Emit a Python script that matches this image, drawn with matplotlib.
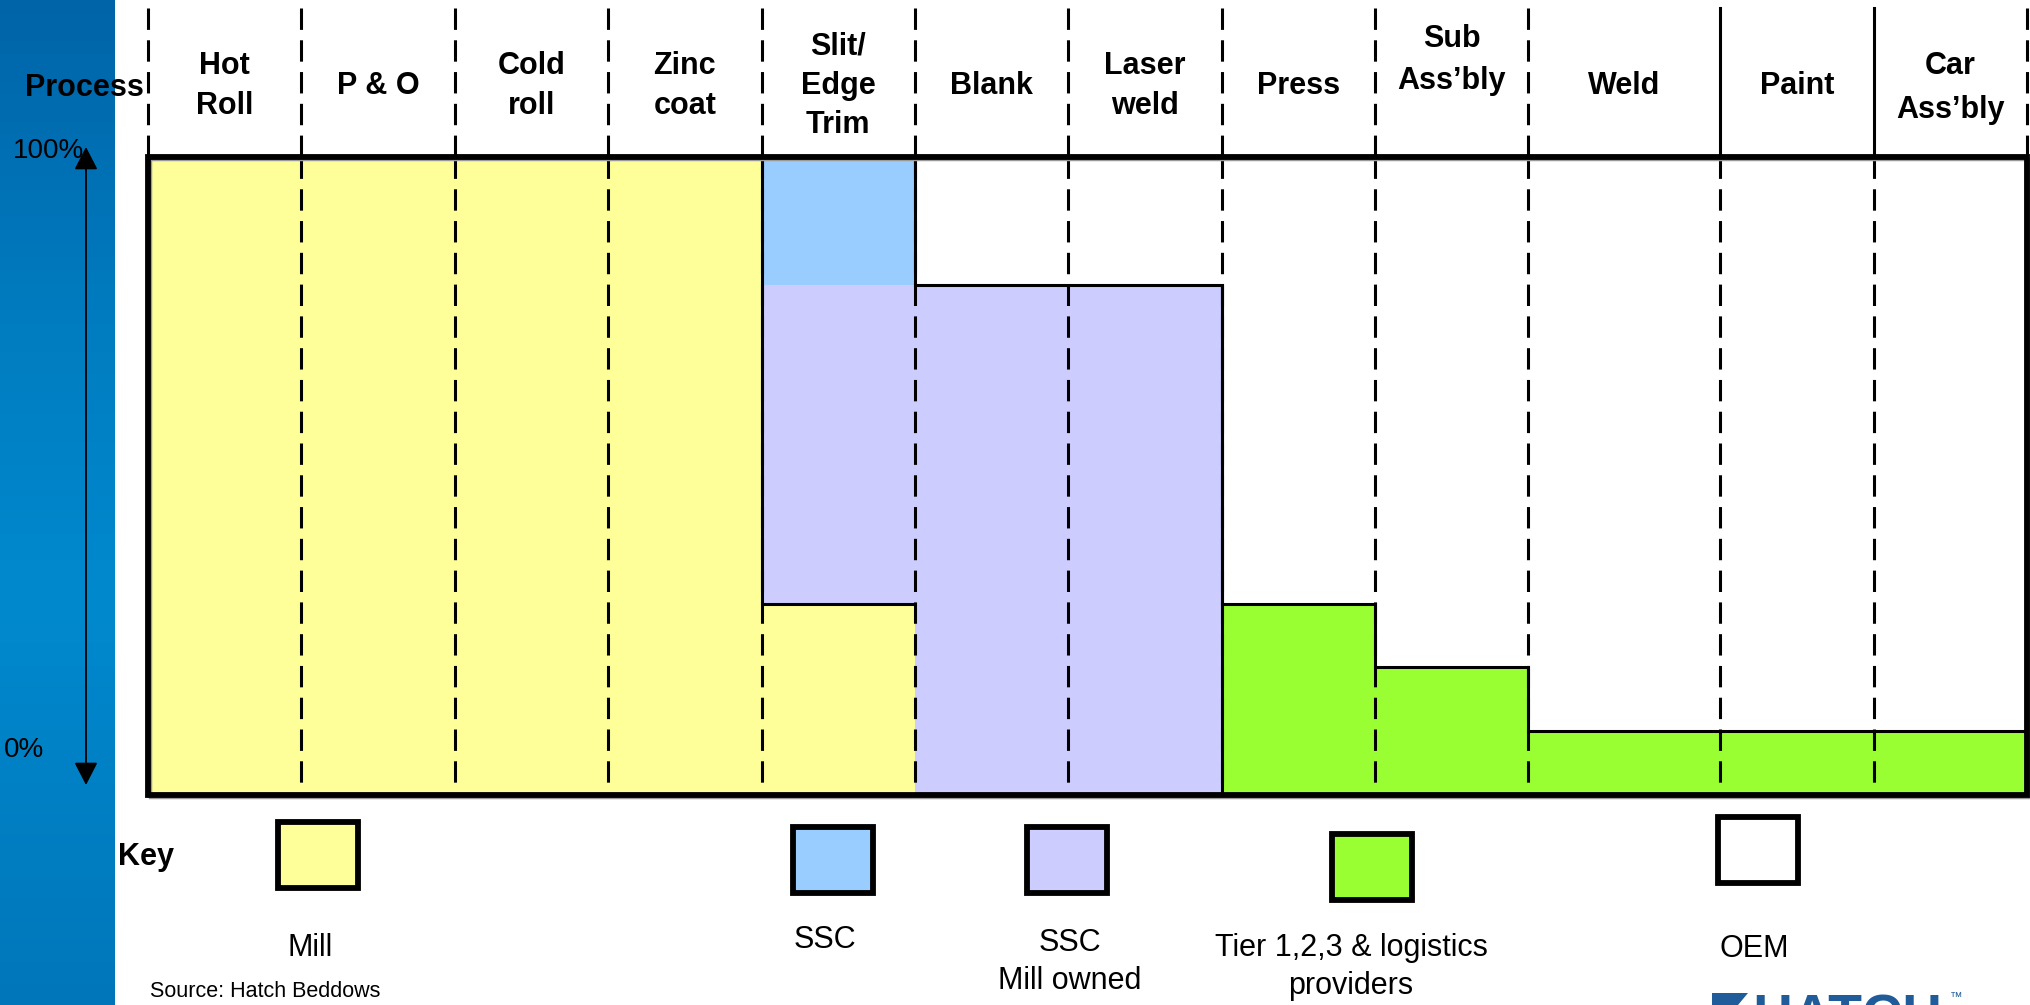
import numpy as np
import matplotlib
matplotlib.use('Agg')
import matplotlib.pyplot as plt
from matplotlib.patches import Rectangle, FancyArrowPatch, Polygon

plt.rcParams['font.family'] = ['Liberation Sans', 'DejaVu Sans']

# process steps along the steel supply chain
processes = ['Hot\nRoll', 'P & O', 'Cold\nroll', 'Zinc\ncoat', 'Slit/\nEdge\nTrim',
             'Blank', 'Laser\nweld', 'Press', 'Sub\nAss\u2019bly', 'Weld', 'Paint',
             'Car\nAss\u2019bly']
col_widths = [1, 1, 1, 1, 1, 1, 1, 1, 1, 1.25, 1, 1]

# share (%) of each step done by each party, bottom to top
mill = [100, 100, 100, 100, 30, 0, 0, 0, 0, 0, 0, 0]
ssc_mill_owned = [0, 0, 0, 0, 50, 80, 80, 0, 0, 0, 0, 0]
ssc = [0, 0, 0, 0, 20, 0, 0, 0, 0, 0, 0, 0]
tier = [0, 0, 0, 0, 0, 0, 0, 30, 20, 10, 10, 10]

key_labels = ['Mill', 'SSC', 'SSC\nMill owned', 'Tier 1,2,3 & logistics\nproviders', 'OEM']
key_colors = ['#FFFF99', '#99CCFF', '#CCCCFF', '#99FF33', '#FFFFFF']

W, H = 2030, 1005


def fx(x):
    return x / W


def fy(y):
    return 1 - y / H


fig = plt.figure(figsize=(W / 100, H / 100), dpi=100)

# blue side band
band = fig.add_axes([0, 0, fx(115), 1])
stops = [0.0, 0.35, 0.6, 1.0]
rgb = np.array([[0, 100, 168], [0, 126, 194], [0, 137, 206], [0, 118, 186]]) / 255
t = np.linspace(0, 1, 400)
grad = np.stack([np.interp(t, stops, rgb[:, k]) for k in range(3)], axis=1)
band.imshow(grad[:, None, :], aspect='auto', extent=[0, 1, 0, 1])
band.axis('off')

# chart area (box + header above it)
left, right, top_px, box_top, bot_px = 148, 2027, 8, 157, 795
ax = fig.add_axes([fx(left), fy(bot_px), (right - left) / W, (bot_px - top_px) / H])
ytop = 100 * (bot_px - top_px) / (bot_px - box_top)
px_per_unit = (bot_px - box_top) / 100
edges = np.concatenate([[0], np.cumsum(col_widths)])
ax.set_xlim(0, edges[-1])
ax.set_ylim(0, ytop)
ax.axis('off')


def yd(py):
    return 100 + (box_top - py) / px_per_unit


layers = [(mill, key_colors[0]), (ssc_mill_owned, key_colors[2]),
          (ssc, key_colors[1]), (tier, key_colors[3])]
bottom = np.zeros(len(processes))
for vals, c in layers:
    ax.bar(edges[:-1], vals, width=col_widths, bottom=bottom, align='edge',
           color=c, linewidth=0, zorder=1)
    bottom += np.array(vals)
ax.bar(edges[:-1], 100 - bottom, width=col_widths, bottom=bottom, align='edge',
       color=key_colors[4], linewidth=0, zorder=1)

dash = (0, (7, 3.4))
for x in edges[1:-1]:
    ax.plot([x, x], [100, 0], color='black', lw=2.2, ls=dash, zorder=2)

# header separators (solid between the OEM steps)
for i, x in enumerate(edges):
    ls = '-' if i in (10, 11) else dash
    ax.plot([x, x], [ytop, 100], color='black', lw=2.2, ls=ls, zorder=2, clip_on=False)

# outlines of the shaded areas
ax.stairs(bottom, edges, baseline=None, color='black', lw=2.2, zorder=3)
for i, m in enumerate(mill):
    if 0 < m < 100:
        ax.hlines(m, edges[i], edges[i + 1], color='black', lw=2.2, zorder=3)
        ax.vlines(edges[i], m, 100, color='black', lw=2.2, zorder=3)
ax.vlines(edges[7], 0, ssc_mill_owned[6], color='black', lw=2.2, zorder=3)

# box with a faint shadow
ax.add_patch(Rectangle((0.012, -0.35), edges[-1], 100, fill=False, ec='#9a9a9a', lw=2.5,
                       zorder=4, clip_on=False))
ax.add_patch(Rectangle((0, 0), edges[-1], 100, fill=False, ec='black', lw=4.2,
                       zorder=5, clip_on=False))

for i, name in enumerate(processes):
    xc = (edges[i] + edges[i + 1]) / 2
    yc, lsp = yd(86), 1.4
    if name.startswith('Sub'):
        yc, lsp = yd(60), 1.55
    elif name.startswith('Car'):
        yc, lsp = yd(88), 1.6
    ax.text(xc, yc, name, ha='center', va='center', fontsize=22, fontweight='bold',
            linespacing=lsp, multialignment='center', zorder=6)

fig.text(fx(84), fy(88), 'Process', ha='center', va='center', fontsize=22,
         fontweight='bold')

# 0-100% arrow on the band
arrow = FancyArrowPatch((fx(86), fy(785)), (fx(86), fy(147)), transform=fig.transFigure,
                        arrowstyle='<|-|>,head_length=0.7,head_width=0.36',
                        mutation_scale=20, lw=1.3, color='black', shrinkA=0, shrinkB=0)
fig.add_artist(arrow)
fig.text(fx(84), fy(151), '100%', ha='right', va='center', fontsize=20)
fig.text(fx(44), fy(750), '0%', ha='right', va='center', fontsize=20)

# key
fig.text(fx(118), fy(857), 'Key', ha='left', va='center', fontsize=22, fontweight='bold')
key_boxes = [(318, 855), (833, 860), (1067, 860), (1372, 867), (1758, 850)]
key_text = [(310, 948), (825, 940), (1070, 962), (1351, 967), (1754, 949)]
for lab, c, (bx, by), (tx, ty) in zip(key_labels, key_colors, key_boxes, key_text):
    fig.add_artist(Rectangle((fx(bx - 40), fy(by + 33)), 80 / W, 66 / H,
                             transform=fig.transFigure, fc=c, ec='black', lw=4.2))
    fig.text(fx(tx), fy(ty), lab, ha='center', va='center', fontsize=22,
             linespacing=1.35, multialignment='center')

fig.text(fx(150), fy(991), 'Source: Hatch Beddows', ha='left', va='center', fontsize=15.5)

# logo peeking in at the bottom edge
logo_blue = '#1F5C99'
fig.add_artist(Polygon([(fx(1712), fy(993)), (fx(1748), fy(993)), (fx(1738), fy(1005)),
                        (fx(1712), fy(1005))], closed=True, transform=fig.transFigure,
                       fc=logo_blue, ec='none'))
fig.text(fx(1752), fy(1034), 'HATCH', ha='left', va='baseline', fontsize=40,
         fontweight='bold', color=logo_blue)
fig.text(fx(1950), fy(1001), '\u2122', ha='left', va='baseline', fontsize=9,
         color=logo_blue)

fig.savefig('out.png', dpi=100)
